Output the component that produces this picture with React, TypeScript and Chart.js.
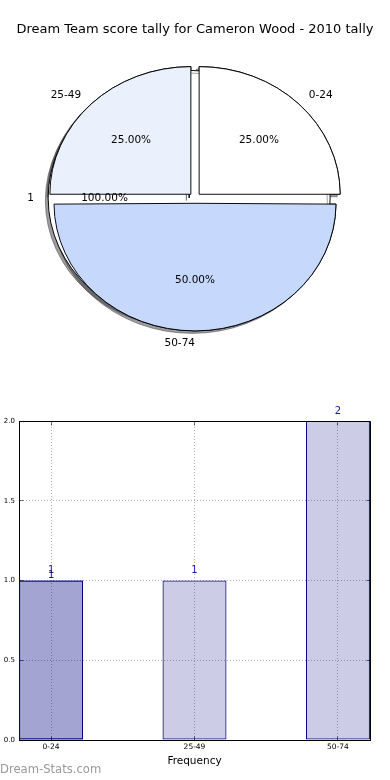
import React, { useEffect, useRef } from 'react';
import { Chart, registerables } from 'chart.js';

Chart.register(...registerables);

const FONT = '"DejaVu Sans", Verdana, sans-serif';

const chartTitle = 'Dream Team score tally for Cameron Wood - 2010 tally';

// Pie slices (matplotlib goes counter-clockwise from 3 o'clock)
const pieCategories = ['0-24', '25-49', '50-74'];
const pieValues = [1, 1, 2];
const pieColors = ['#ffffff', '#eaf1fd', '#c6d9fd'];
// Chart.js goes clockwise from 12 o'clock: this order puts each slice where matplotlib did
const pieClockwiseOrder = [0, 2, 1];

// the single full-circle pie drawn underneath
const underCategories = ['1'];
const underValues = [1];
const underColors = ['#ffffff'];

// Bar chart
const barCategories = ['0-24', '25-49', '50-74'];
const barValues = [1, 1, 2];
const barRepeatValues = [1]; // the 0-24 bar is drawn a second time
const yMin = 0;
const yMax = 2;
const yStep = 0.5;
const xAxisTitle = 'Frequency';
const watermark = 'Dream-Stats.com';

const SQUASH = 0.905;
const EXPLODE = 5.85;
const RADIUS = 141;
const SHADOW = 'rgba(60,60,66,0.5)';

// Chart.js widens half/full slices by offset/4 when exploding them; keep every wedge at RADIUS
const evenRadiusPlugin = {
  id: 'evenRadius',
  afterUpdate(chart: any) {
    chart.getDatasetMeta(0).data.forEach((arc: any) => {
      const off = (arc.options.offset || 0) / 4;
      const fix = 1 - Math.sin(Math.min(Math.PI, arc.circumference || 0));
      arc.outerRadius = RADIUS - off * fix;
    });
  },
};

// mid angles as matplotlib counts them (counter-clockwise from 3 o'clock), in canvas terms
function mplMidAngles(values: number[]) {
  const total = values.reduce((a, b) => a + b, 0);
  let cum = 0;
  return values.map((v) => {
    const m = -2 * Math.PI * (cum + v / 2) / total;
    cum += v;
    return m;
  });
}

function drawPieLabels(ctx: CanvasRenderingContext2D, chart: Chart, angles?: number[]) {
  const meta = chart.getDatasetMeta(0);
  const data = chart.data.datasets[0].data as number[];
  const labels = chart.data.labels as string[];
  const total = data.reduce((a, b) => a + b, 0);
  meta.data.forEach((arc: any, j: number) => {
    const p = arc.getProps(['x', 'y', 'startAngle', 'endAngle', 'outerRadius', 'circumference'], true);
    const off = (arc.options.offset || 0) / 4;
    const arcMid = (p.startAngle + p.endAngle) / 2;
    const fix = 1 - Math.sin(Math.min(Math.PI, p.circumference || 0));
    const cx = p.x + Math.cos(arcMid) * off;
    const cy = p.y + Math.sin(arcMid) * off;
    const r = p.outerRadius + off * fix;
    const mid = angles ? angles[j] : arcMid;
    const toY = (y: number) => p.y + (y - p.y) * SQUASH;
    const c = Math.cos(mid);
    const s = Math.sin(mid);
    ctx.textBaseline = 'middle';
    ctx.textAlign = c > 1e-6 ? 'left' : 'right';
    ctx.fillText(labels[j], cx + c * r * 1.1, toY(cy + s * r * 1.1));
    ctx.textAlign = 'center';
    const pct = ((data[j] / total) * 100).toFixed(2) + '%';
    ctx.fillText(pct, cx + c * r * 0.6, toY(cy + s * r * 0.6));
  });
}

const squashBegin = (chart: any, shadow: boolean) => {
  const ctx = chart.ctx as CanvasRenderingContext2D;
  const { left, right, top, bottom } = chart.chartArea;
  const cx = (left + right) / 2;
  const cy = (top + bottom) / 2;
  ctx.save();
  ctx.translate(cx, cy);
  ctx.scale(1, SQUASH);
  ctx.translate(-cx, -cy);
  if (shadow) {
    ctx.shadowColor = SHADOW;
    ctx.shadowOffsetX = -2.8;
    ctx.shadowOffsetY = 2.5;
    ctx.shadowBlur = 0;
  }
};

export default function App() {
  const backRef = useRef<HTMLCanvasElement>(null);
  const frontRef = useRef<HTMLCanvasElement>(null);
  const barRef = useRef<HTMLCanvasElement>(null);

  useEffect(() => {
    Chart.defaults.font.family = FONT;
    const refs: { front?: Chart; back?: Chart } = {};

    const common: any = {
      responsive: false,
      animation: false,
      devicePixelRatio: 1,
      events: [],
      layout: { padding: 0 },
      plugins: { legend: { display: false }, tooltip: { enabled: false }, title: { display: false } },
    };

    const front = new Chart(frontRef.current!, {
      type: 'pie',
      data: {
        labels: pieClockwiseOrder.map((i) => pieCategories[i]),
        datasets: [
          {
            data: pieClockwiseOrder.map((i) => pieValues[i]),
            backgroundColor: pieClockwiseOrder.map((i) => pieColors[i]),
            borderColor: '#000',
            borderWidth: 1,
            borderJoinStyle: 'miter',
            radius: RADIUS,
            rotation: 0,
            offset: EXPLODE * 4,
          } as any,
        ],
      },
      options: common,
      plugins: [
        evenRadiusPlugin,
        {
          id: 'frontSquash',
          beforeDatasetsDraw(chart: any) {
            squashBegin(chart, false);
          },
          afterDatasetsDraw(chart: any) {
            chart.ctx.restore();
          },
          afterDraw(chart: any) {
            const ctx = chart.ctx as CanvasRenderingContext2D;
            ctx.save();
            ctx.fillStyle = '#000';
            ctx.font = `13px ${FONT}`;
            ctx.textAlign = 'center';
            ctx.textBaseline = 'middle';
            ctx.fillText(chartTitle, chart.width / 2, 30);
            ctx.font = `10.5px ${FONT}`;
            if (refs.back) drawPieLabels(ctx, refs.back, mplMidAngles(underValues));
            drawPieLabels(ctx, chart);
            ctx.restore();
          },
        },
      ],
    });
    refs.front = front;

    // The full circle is exploded to the left by shifting its area (a full Chart.js arc has a
    // seam from its start to the centre; starting at 12 o'clock hides it under the 25-49 wedge).
    const back = new Chart(backRef.current!, {
      type: 'pie',
      data: {
        labels: underCategories,
        datasets: [
          {
            data: underValues,
            backgroundColor: underColors,
            borderColor: '#000',
            borderWidth: 1,
            radius: RADIUS,
            rotation: 0,
            offset: 0,
          } as any,
        ],
      },
      options: { ...common, layout: { padding: { left: 0, right: EXPLODE * 2, top: 0, bottom: 0 } } },
      plugins: [
        evenRadiusPlugin,
        {
          id: 'backSquash',
          beforeDatasetsDraw(chart: any) {
            squashBegin(chart, true);
            // shadows of the upper pie's wedges lie under the lower pie, as in the original
            if (refs.front) {
              refs.front.getDatasetMeta(0).data.forEach((a: any) => a.draw(chart.ctx));
            }
          },
          afterDatasetsDraw(chart: any) {
            chart.ctx.restore();
          },
        },
      ],
    });
    refs.back = back;
    front.draw();

    const barStyle = {
      backgroundColor: 'rgba(0,0,128,0.2)',
      borderColor: '#000080',
      borderWidth: 1,
      borderSkipped: false,
      grouped: false,
      categoryPercentage: 1,
      barPercentage: 0.446,
    };

    const align = (p: number) => Math.round(p - 0.5) + 0.5;

    const bar = new Chart(barRef.current!, {
      type: 'bar',
      data: {
        datasets: [
          { label: 'all', data: barValues.map((v, i) => ({ x: i, y: v })), ...barStyle } as any,
          { label: 'repeat', data: barRepeatValues.map((v, i) => ({ x: i, y: v })), ...barStyle } as any,
        ],
      },
      options: {
        ...common,
        layout: { padding: { top: 21, right: 20, bottom: 0, left: 0 } },
        scales: {
          x: {
            type: 'linear',
            offset: false,
            min: -0.2235,
            max: 2.2235,
            afterBuildTicks: (s: any) => {
              s.ticks = barCategories.map((_, i) => ({ value: i }));
            },
            afterFit: (s: any) => {
              s.height = 40;
            },
            ticks: {
              callback: (v: any) => barCategories[v] ?? '',
              color: '#000',
              font: { family: FONT, size: 7.5 },
              padding: 3,
              maxRotation: 0,
              autoSkip: false,
            },
            grid: { offset: false, color: '#b0b0b0', lineWidth: 1, drawTicks: false },
            border: { display: true, color: '#000', width: 1, dash: [1, 2] },
            title: {
              display: true,
              text: xAxisTitle,
              color: '#000',
              font: { family: FONT, size: 10.5 },
              padding: { top: 0, bottom: 12.7 },
            },
          },
          y: {
            type: 'linear',
            min: yMin,
            max: yMax,
            afterFit: (s: any) => {
              s.width = 19;
            },
            ticks: {
              stepSize: yStep,
              callback: (v: any) => Number(v).toFixed(1),
              color: '#000',
              font: { family: FONT, size: 7 },
              padding: 4,
            },
            grid: { color: '#b0b0b0', lineWidth: 1, drawTicks: false },
            border: { display: true, color: '#000', width: 1, dash: [1, 2] },
          },
        },
      } as any,
      plugins: [
        {
          id: 'barExtras',
          afterDraw(chart: any) {
            const ctx = chart.ctx as CanvasRenderingContext2D;
            const { left, right, top, bottom } = chart.chartArea;
            const xs = chart.scales.x;
            const ys = chart.scales.y;
            ctx.save();
            // frame
            ctx.strokeStyle = '#000';
            ctx.lineWidth = 1;
            ctx.beginPath();
            ctx.moveTo(align(left), align(top));
            ctx.lineTo(align(right), align(top));
            ctx.lineTo(align(right), align(bottom));
            ctx.stroke();
            // inward ticks
            ctx.strokeStyle = 'rgba(0,0,0,0.55)';
            ctx.beginPath();
            ys.ticks.forEach((t: any) => {
              const py = align(ys.getPixelForValue(t.value));
              ctx.moveTo(align(left), py);
              ctx.lineTo(align(left) + 4, py);
              ctx.moveTo(align(right), py);
              ctx.lineTo(align(right) - 4, py);
            });
            xs.ticks.forEach((t: any) => {
              const px = align(xs.getPixelForValue(t.value));
              ctx.moveTo(px, align(bottom));
              ctx.lineTo(px, align(bottom) - 4);
              ctx.moveTo(px, align(top));
              ctx.lineTo(px, align(top) + 4);
            });
            ctx.stroke();
            // value labels
            ctx.fillStyle = '#1a1a99';
            ctx.font = `10px ${FONT}`;
            ctx.textAlign = 'center';
            ctx.textBaseline = 'middle';
            const lift = [10, 5.5];
            chart.data.datasets.forEach((ds: any, di: number) => {
              chart.getDatasetMeta(di).data.forEach((el: any, i: number) => {
                ctx.fillText(String(ds.data[i].y), el.x, el.y - lift[di]);
              });
            });
            // watermark
            ctx.fillStyle = '#999';
            ctx.font = `11.6px ${FONT}`;
            ctx.textAlign = 'left';
            ctx.fillText(watermark, 0, 370);
            ctx.restore();
          },
        },
      ],
    });

    return () => {
      front.destroy();
      back.destroy();
      bar.destroy();
    };
  }, []);

  const pieStyle: React.CSSProperties = { position: 'absolute', left: 0, top: 0, width: 390, height: 396 };
  return (
    <div style={{ position: 'absolute', left: 0, top: 0, width: 390, height: 780, background: '#fff', overflow: 'hidden' }}>
      <canvas ref={backRef} width={390} height={396} style={pieStyle} />
      <canvas ref={frontRef} width={390} height={396} style={pieStyle} />
      <canvas
        ref={barRef}
        width={390}
        height={380}
        style={{ position: 'absolute', left: 0, top: 400, width: 390, height: 380 }}
      />
    </div>
  );
}
